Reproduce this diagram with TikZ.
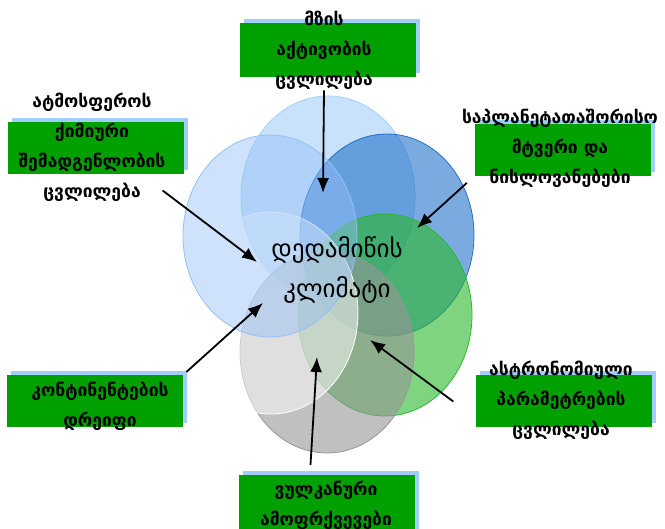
\documentclass[tikz,border=0pt]{standalone}
\usepackage{fontspec}
\setmainfont{DejaVu Sans}
\usetikzlibrary{arrows.meta,positioning,shapes.geometric,shadows}

\definecolor{boxgreen}{RGB}{0,160,0}
\definecolor{boxblue}{RGB}{160,205,250}
\definecolor{petalsky}{RGB}{163,207,248}
\definecolor{petalpale}{RGB}{148,191,246}
\definecolor{petalblue}{RGB}{33,113,203}
\definecolor{petalgreen}{RGB}{42,183,42}
\definecolor{petalgrey}{RGB}{150,150,150}

\tikzset{
    petal/.style = {
        ellipse, draw=#1, fill=#1, fill opacity=0.6, line width=0.8pt,
        minimum width=174pt, minimum height=202pt, inner sep=0pt
    },
    gbox/.style  = {
        rectangle, fill=boxgreen, inner sep=0pt,
        minimum width=176pt, minimum height=52pt,
        general shadow={fill=boxblue, shadow xshift=4pt, shadow yshift=4pt}
    },
    lbl/.style   = {align=center, font=\fontsize{17.5}{30}\selectfont\bfseries, inner sep=1pt},
    line/.style  = {draw, -{Latex[length=15pt,width=12pt]}, line width=1.8pt}
}

\begin{document}
\begin{tikzpicture}[x=1pt, y=-1pt]
  \useasboundingbox (0,0) rectangle (665,529);

  % six overlapping petals
  \node [petal=petalsky]  (p-sun)   at (328,197) {};
  \node [petal=petalblue] (p-dust)  at (387,235) {};
  \node [petal=petalgreen](p-astro) at (385,315) {};
  \node [petal=petalgrey] (p-volc)  at (327,352) {};
  \node [petal=white, fill opacity=0.5] (p-drift) at (271,313) {};
  \node [petal=petalpale, fill opacity=0.45] (p-atm) at (270,236) {};

  \node [align=center, font=\fontsize{25}{40}\selectfont] (earth) at (337,270)
        {დედამიწის\\კლიმატი};

  % green boxes
  \node [gbox, minimum height=54pt] (sun-box) at (327.5,50) {};
  \node [gbox] (atm-box)   at (96,148)    {};
  \node [gbox] (dust-box)  at (562.5,150) {};
  \node [gbox] (drift-box) at (94.5,401.5) {};
  \node [gbox] (astro-box) at (563.5,401.5) {};
  \node [gbox, minimum height=60pt] (volc-box) at (326.5,505) {};

  % labels
  \node [lbl] (sun-lbl)   at (324,50)  {მზის\\აქტივობის\\ცვლილება};
  \node [lbl] (atm-lbl)   at (92,147)  {ატმოსფეროს\\ქიმიური\\შემადგენლობის\\ცვლილება};
  \node [lbl] (dust-lbl)  at (560,148) {საპლანეტათაშორისო\\მტვერი და\\ნისლოვანებები};
  \node [lbl] (drift-lbl) at (100,406) {კონტინენტების\\დრეიფი};
  \node [lbl] (astro-lbl) at (561,400) {ასტრონომიული\\პარამეტრების\\ცვლილება};
  \node [lbl] (volc-lbl)  at (326,505) {ვულკანური\\ამოფრქვევები};

  % arrow tips
  \coordinate (sun-tip)   at (323,193);
  \coordinate (atm-tip)   at (257,262);
  \coordinate (dust-tip)  at (417,228);
  \coordinate (drift-tip) at (263,303);
  \coordinate (astro-tip) at (370,340);
  \coordinate (volc-tip)  at (317,357);

  \path [line] (sun-lbl.south) -- (sun-tip);
  \path [line] ([xshift=-4pt,yshift=12pt]atm-lbl.south east) -- (atm-tip);
  \path [line, shorten <=10pt] (dust-box.south west) -- (dust-tip);
  \path [line, shorten <=5pt] (drift-box.north east) -- (drift-tip);
  \path [line] ([xshift=-22pt]astro-box.west) -- (astro-tip);
  \path [line] ([xshift=-16pt,yshift=10pt]volc-box.north) -- (volc-tip);
\end{tikzpicture}
\end{document}
